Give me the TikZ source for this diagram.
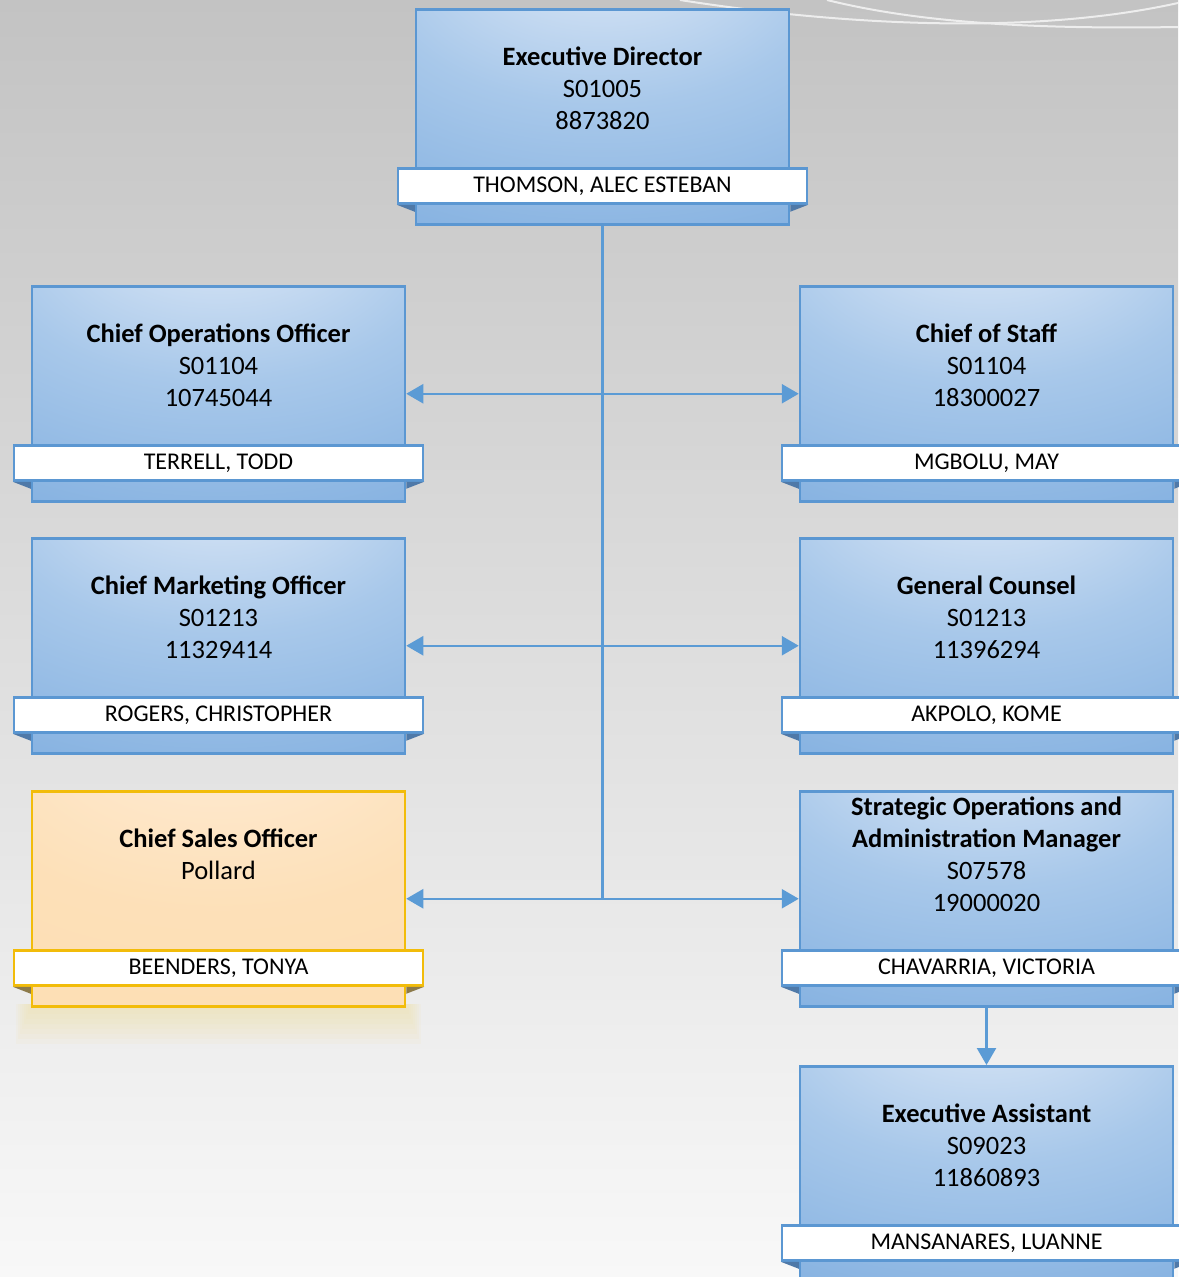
\documentclass[tikz,border=0pt]{standalone}
\usepackage{fontspec}
\setmainfont{Carlito}
\usetikzlibrary{arrows.meta,calc}

\definecolor{bgtop}{HTML}{C3C3C3}
\definecolor{bgbot}{HTML}{F8F8F8}
\definecolor{curve}{HTML}{EDEDED}
\definecolor{blueedge}{HTML}{5B97D2}
\definecolor{blueA}{HTML}{EAF1FA}
\definecolor{blueB}{HTML}{D6E4F5}
\definecolor{blueC}{HTML}{A8C8EA}
\definecolor{blueD}{HTML}{86B2E1}
\definecolor{blueE}{HTML}{6EA3DA}
\definecolor{blueF}{HTML}{5A94D0}
\definecolor{bluefold}{HTML}{4F79A8}
\definecolor{goldedge}{HTML}{F2BC0A}
\definecolor{goldA}{HTML}{FFF6EC}
\definecolor{goldB}{HTML}{FEE8CC}
\definecolor{goldC}{HTML}{FDE0B8}
\definecolor{goldD}{HTML}{FDDBAC}
\definecolor{goldfold}{HTML}{8C7A4A}
\definecolor{glow}{HTML}{F3E3B0}
\definecolor{linkblue}{HTML}{5B9BD5}

\pgfdeclareradialshading{blueshade}{\pgfpoint{0bp}{45bp}}{%
  color(0bp)=(blueA); color(8bp)=(blueB); color(30bp)=(blueC);
  color(55bp)=(blueD); color(80bp)=(blueE); color(110bp)=(blueF)}
\pgfdeclareradialshading{goldshade}{\pgfpoint{0bp}{50bp}}{%
  color(0bp)=(goldA); color(15bp)=(goldB); color(35bp)=(goldC);
  color(95bp)=(goldD)}

\tikzset{
  card/.style={draw=#1edge, line width=2.5pt, shading=#1shade,
    minimum width=373pt, minimum height=215pt, inner sep=0pt, anchor=north},
  tag/.style={draw=#1edge, line width=2.5pt, fill=white,
    minimum width=409pt, minimum height=35pt, inner sep=0pt,
    font=\fontsize{24}{28}\selectfont},
  cardtext/.style={align=center, inner sep=0pt, anchor=base,
    font=\fontsize{26.5}{32}\selectfont},
  linkline/.style={draw=linkblue, line width=2.5pt},
  link/.style={linkline, -{Triangle[length=17pt,width=19pt]}},
  twolink/.style={linkline, {Triangle[length=17pt,width=19pt]}-{Triangle[length=17pt,width=19pt]}},
}

% #1 name, #2 scheme, #3 x centre, #4 y top, #5 last baseline drop, #6 text, #7 person
\newcommand{\orgcard}[7]{%
  \node[card=#2] (#1) at (#3,#4) {};
  \node[tag=#2] (#1-tag) at ([yshift=-178pt]#1.north) {#7};
  \fill[#2fold] (#1-tag.south west) -- (#1-tag.south west -| #1.west)
    -- ($(#1-tag.south west -| #1.west)+(0,-7)$) -- cycle;
  \fill[#2fold] (#1-tag.south east) -- (#1-tag.south east -| #1.east)
    -- ($(#1-tag.south east -| #1.east)+(0,-7)$) -- cycle;
  \node[cardtext] (#1-text) at ([yshift=-#5pt]#1.north) {#6};
}

\begin{document}
\begin{tikzpicture}[x=1pt,y=1pt]
  \useasboundingbox (0,0) rectangle (1178,-1277);
  \fill[top color=bgtop, bottom color=bgbot] (0,0) rectangle (1178,-1277);

  % curves in the background
  \draw[curve, line width=2pt] (827,0) .. controls (900,-18) and (1000,-30) .. (1178,-27);
  \draw[curve, line width=2pt] (680,0) .. controls (820,-22) and (1020,-38) .. (1178,-3);

  % glow under the sales card
  \foreach \i in {1,...,8}
    \fill[glow, opacity=0.12] (32-2*\i,-1004) rectangle (405+2*\i,-1004-5*\i);

  \orgcard{exec}{blue}{602.5}{-8}{121}{\textbf{Executive Director}\\S01005\\8873820}{THOMSON, ALEC ESTEBAN}
  \orgcard{coo}{blue}{218.5}{-285}{121}{\textbf{Chief Operations Officer}\\S01104\\10745044}{TERRELL, TODD}
  \orgcard{cos}{blue}{986.5}{-285}{121}{\textbf{Chief of Staff}\\S01104\\18300027}{MGBOLU, MAY}
  \orgcard{cmo}{blue}{218.5}{-537}{121}{\textbf{Chief Marketing Officer}\\S01213\\11329414}{ROGERS, CHRISTOPHER}
  \orgcard{gc}{blue}{986.5}{-537}{121}{\textbf{General Counsel}\\S01213\\11396294}{AKPOLO, KOME}
  \orgcard{cso}{gold}{218.5}{-790}{89}{\textbf{Chief Sales Officer}\\Pollard}{BEENDERS, TONYA}
  \orgcard{soam}{blue}{986.5}{-790}{121}{\textbf{Strategic Operations and}\\\textbf{Administration Manager}\\S07578\\19000020}{CHAVARRIA, VICTORIA}
  \orgcard{ea}{blue}{986.5}{-1065}{121}{\textbf{Executive Assistant}\\S09023\\11860893}{MANSANARES, LUANNE}

  % connectors
  \draw[linkline] (exec-tag.south |- exec.south) -- (exec-tag.south |- cso.east);
  \draw[twolink] (coo.east) -- (cos.west);
  \draw[twolink] (cmo.east) -- (gc.west);
  \draw[twolink] (cso.east) -- (soam.west);
  \draw[link] (soam.south) -- (ea.north);
\end{tikzpicture}
\end{document}
